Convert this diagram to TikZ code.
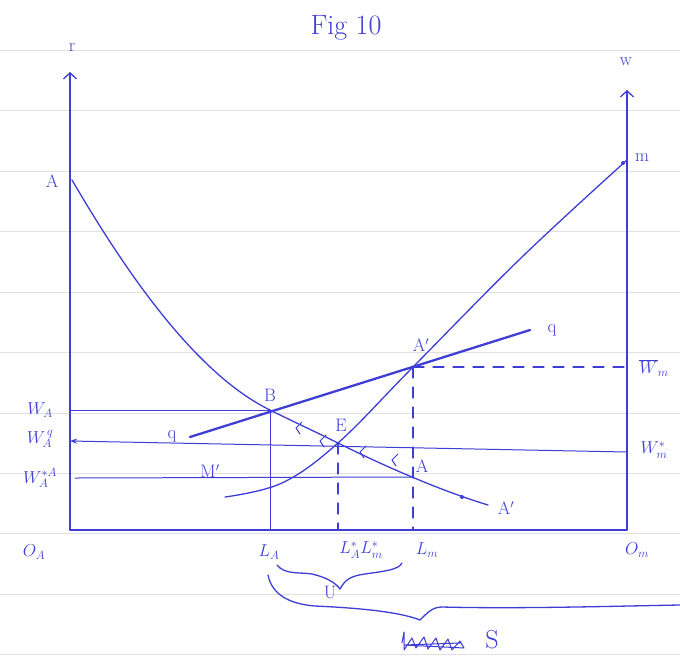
\documentclass[tikz,border=0pt]{standalone}
\usetikzlibrary{arrows.meta}
\definecolor{hb}{RGB}{62,62,212}
\begin{document}
\begin{tikzpicture}[x=1pt,y=-1pt, line cap=round, line join=round,
  ink/.style={draw=hb, line width=1.3pt},
  thinink/.style={draw=hb, line width=1pt},
  boldink/.style={draw=hb, line width=2.3pt},
  dashink/.style={draw=hb, color=hb, line width=1.2pt, dash pattern=on 11pt off 9pt},
  paper/.style={draw=black!12, line width=0.8pt},
  handtip/.style={-{Straight Barb[length=6pt,width=13pt]}},
  lab/.style={text=hb, font=\fontsize{18}{20}\selectfont, inner sep=1pt}]
\useasboundingbox (0,0) rectangle (680,657);
\fill[white] (0,0) rectangle (680,657);
\foreach \y in {50,110,171,231,292,352,413,473,533,594,654} \draw[paper] (0,\y) -- (680,\y);

% key points
\coordinate (OA) at (70,530);
\coordinate (OM) at (627,530);
\coordinate (rtop) at (70,72);
\coordinate (wtop) at (627,90);
\coordinate (Atop) at (72,180);
\coordinate (B) at (270,410);
\coordinate (E) at (338,443);
\coordinate (Apt) at (412,477);
\coordinate (Aend) at (488,505);
\coordinate (Mp) at (225,497);
\coordinate (Ap) at (413,367);
\coordinate (M) at (627,160);
\coordinate (q1) at (190,437);
\coordinate (q2) at (530,330);
\coordinate (wq) at (70,441);
\coordinate (wms) at (627,452);
\coordinate (wsa) at (75,478);

% axes
\draw[ink,handtip] (OA) -- (rtop);
\draw[ink,handtip] (OM) -- (wtop);
\draw[ink] (OA) -- (OM);

% curves
\draw[ink] (Atop) .. controls (120,262) and (192,372) .. (B)
  .. controls (292,421) and (316,432) .. (E)
  .. controls (362,455) and (388,467) .. (Apt)
  .. controls (438,488) and (462,497) .. (Aend);
\fill[hb] (462,497) circle (2pt);
\draw[ink] plot[smooth, tension=0.6] coordinates {(Mp) (282,483) (E) (Ap) (522,257) (M)};
\fill[hb] (M) ++(-4,3) circle (2pt);
\draw[boldink] (q1) -- (q2);

% horizontal guides
\draw[thinink] (OA |- B) -- (B);
\draw[thinink,{Stealth[length=7pt,width=5pt]}-] (wq) -- (wms);
\draw[thinink] (wsa) -- (Apt);
\draw[dashink] (Ap) -- (Ap -| OM);

% vertical guides
\draw[thinink] (B) -- (B |- OA);
\draw[dashink] (E) -- (E |- OA);
\draw[dashink] (Ap) -- (Ap |- OA);

% direction marks
\foreach \x/\y in {296/428, 320/441, 360/452, 392/460}
  \draw[thinink] (\x+6,\y-6) -- (\x,\y) -- (\x+4,\y+6);

% braces
\draw[ink] (277,565) .. controls (285,575) and (300,572) .. (312,574)
  .. controls (325,577) and (335,582) .. (340,589)
  .. controls (345,580) and (350,576) .. (365,574)
  .. controls (385,571) and (398,570) .. (402,563);
\draw[ink] (268,575) .. controls (272,595) and (290,604) .. (315,606)
  .. controls (360,608) and (400,612) .. (420,620)
  .. controls (428,612) and (433,607) .. (442,607)
  .. controls (520,609) and (620,606) .. (680,605);

% scribble
\draw[thinink] (402,643) -- (404,632) -- (404,650) -- (412,638) -- (416,648) -- (424,637)
  -- (428,649) -- (436,638) -- (440,650) -- (448,639) -- (452,650) -- (460,641) -- (464,648)
  -- (404,645) -- (460,643);

% labels
\node[lab, font=\fontsize{28}{30}\selectfont] (fig) at (346,28) {Fig 10};
\node[lab] (r) at (72,48) {r};
\node[lab] (w) at (626,62) {w};
\node[lab] (lA) at (52,181) {A};
\node[lab] (lm) at (642,158) {m};
\node[lab] (lB) at (270,395) {B};
\node[lab] (lE) at (341,425) {E};
\node[lab] (lApt) at (422,466) {A};
\node[lab] (lAp) at (421,345) {A$'$};
\node[lab] (lAe) at (506,508) {A$'$};
\node[lab] (lMp) at (210,471) {M$'$};
\node[lab] (lq1) at (172,436) {q};
\node[lab] (lq2) at (552,330) {q};
\node[lab] (lWA) at (40,410) {$W_A$};
\node[lab] (lWAq) at (40,439) {$W_A^{\,q}$};
\node[lab] (lWAs) at (40,478) {$W_A^{*A}$};
\node[lab] (lOA) at (34,552) {$O_A$};
\node[lab] (lLA) at (269,552) {$L_A$};
\node[lab] (lLs) at (361,550) {$L_A^*L_m^*$};
\node[lab] (lLm) at (427,550) {$L_m$};
\node[lab] (lOm) at (637,550) {$O_m$};
\node[lab] (lWmb) at (654,368) {$\overline{W}_m$};
\node[lab] (lWms) at (654,450) {$W_m^*$};
\node[lab] (lU) at (330,592) {U};
\node[lab, font=\fontsize{26}{28}\selectfont] (lS) at (492,640) {S};
\end{tikzpicture}
\end{document}
